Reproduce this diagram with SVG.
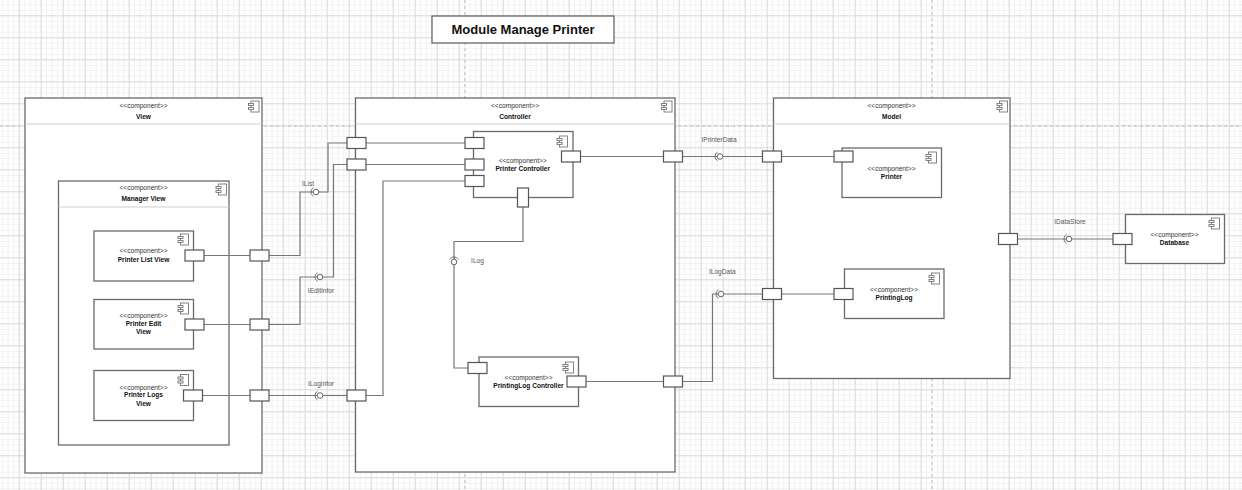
<svg xmlns="http://www.w3.org/2000/svg" width="1242" height="490" viewBox="0 0 1242 490">
<defs>
<pattern id="minor" patternUnits="userSpaceOnUse" x="18.7" y="15.3" width="5.5" height="5.5">
<path d="M0.5 0V5.5M0 0.5H5.5" stroke="#f1f1f1" stroke-width="1" fill="none"/>
</pattern>
<pattern id="major" patternUnits="userSpaceOnUse" x="18.7" y="15.3" width="22" height="22">
<path d="M0.5 0V22M0 0.5H22" stroke="#dcdcdc" stroke-width="1" fill="none"/>
</pattern>
<g id="ico">
<rect x="2.5" y="0" width="8" height="11" fill="#fff" stroke="#777" stroke-width="0.9"/>
<rect x="0" y="2.5" width="5" height="2" fill="#fff" stroke="#777" stroke-width="0.9"/>
<rect x="0" y="6.5" width="5" height="2" fill="#fff" stroke="#777" stroke-width="0.9"/>
</g>
<g id="ballh">
<path d="M-2.5 -4.3A5 5 0 0 0 -2.5 4.3" fill="none" stroke="#666" stroke-width="1"/>
<circle cx="0" cy="0" r="2.8" fill="#fff" stroke="#666" stroke-width="1"/>
</g>
<g id="ballv">
<path d="M-4.3 -2.5A5 5 0 0 1 4.3 -2.5" fill="none" stroke="#666" stroke-width="1"/>
<circle cx="0" cy="0" r="2.8" fill="#fff" stroke="#666" stroke-width="1"/>
</g>
</defs>
<style>
.comp{fill:#fff;stroke:#6a6a6a;stroke-width:1.3}
.sep{stroke:#cfcfcf;stroke-width:1}
.port{fill:#fff;stroke:#555;stroke-width:1.2}
.st{font-family:"Liberation Sans",Arial,sans-serif;font-size:6.6px;fill:#333;text-anchor:middle}
.nm{font-family:"Liberation Sans",Arial,sans-serif;font-size:6.6px;font-weight:bold;fill:#111;text-anchor:middle}
.lb{font-family:"Liberation Sans",Arial,sans-serif;font-size:6.6px;fill:#555;text-anchor:middle}
.cn{fill:none;stroke:#777;stroke-width:1.2}
.pb{stroke:#bbb;stroke-width:1;stroke-dasharray:3 3}
</style>
<rect width="1242" height="490" fill="#fff"/>
<rect width="1242" height="490" fill="url(#minor)"/>
<rect width="1242" height="490" fill="url(#major)"/>
<line class="pb" x1="0" y1="126" x2="1242" y2="126"/>
<line class="pb" x1="465" y1="0" x2="465" y2="490"/>
<line class="pb" x1="932" y1="0" x2="932" y2="490"/>

<g id="title">
<rect x="432" y="16" width="182" height="27" fill="#fff" stroke="#666" stroke-width="1.3"/>
<text x="523" y="34" font-family="Liberation Sans,Arial,sans-serif" font-size="13" font-weight="bold" fill="#111" text-anchor="middle">Module Manage Printer</text>
</g>

<g id="view">
<rect class="comp" x="25" y="98" width="237" height="375"/>
<line class="sep" x1="25" y1="124" x2="262" y2="124"/>
<use href="#ico" x="248.5" y="101"/>
<text class="st" x="143.5" y="108">&lt;&lt;component&gt;&gt;</text>
<text class="nm" x="143.5" y="119">View</text>
</g>
<g id="manager-view">
<rect class="comp" x="58.5" y="181" width="170.5" height="264"/>
<line class="sep" x1="58.5" y1="207" x2="229" y2="207"/>
<use href="#ico" x="216" y="184"/>
<text class="st" x="143.5" y="190">&lt;&lt;component&gt;&gt;</text>
<text class="nm" x="143.5" y="200.7">Manager View</text>
</g>
<g id="printer-list-view">
<rect class="comp" x="94" y="231" width="99.5" height="50"/>
<use href="#ico" x="178" y="234"/>
<text class="st" x="143.5" y="252.6">&lt;&lt;component&gt;&gt;</text>
<text class="nm" x="143.5" y="261.6">Printer List View</text>
</g>
<g id="printer-edit-view">
<rect class="comp" x="94" y="299.5" width="99.5" height="49.5"/>
<use href="#ico" x="178" y="303"/>
<text class="st" x="143.5" y="317.6">&lt;&lt;component&gt;&gt;</text>
<text class="nm" x="143.5" y="325.6">Printer Edit</text>
<text class="nm" x="143.5" y="333.6">View</text>
</g>
<g id="printer-logs-view">
<rect class="comp" x="94" y="370.5" width="99.5" height="50"/>
<use href="#ico" x="178" y="374.5"/>
<text class="st" x="143.5" y="390">&lt;&lt;component&gt;&gt;</text>
<text class="nm" x="143.5" y="397">Printer Logs</text>
<text class="nm" x="143.5" y="405.6">View</text>
</g>

<g id="controller">
<rect class="comp" x="355.5" y="98" width="319.5" height="374"/>
<line class="sep" x1="355.5" y1="124" x2="675" y2="124"/>
<use href="#ico" x="661.5" y="101"/>
<text class="st" x="515" y="108">&lt;&lt;component&gt;&gt;</text>
<text class="nm" x="515" y="119">Controller</text>
</g>
<g id="printer-controller">
<rect class="comp" x="473.5" y="131.5" width="99.5" height="66"/>
<use href="#ico" x="557" y="136"/>
<text class="st" x="522.7" y="163">&lt;&lt;component&gt;&gt;</text>
<text class="nm" x="522.7" y="171">Printer Controller</text>
</g>
<g id="printinglog-controller">
<rect class="comp" x="479" y="357" width="99.5" height="49.5"/>
<use href="#ico" x="563" y="362"/>
<text class="st" x="528.5" y="379.6">&lt;&lt;component&gt;&gt;</text>
<text class="nm" x="528.5" y="388">PrintingLog Controller</text>
</g>

<g id="model">
<rect class="comp" x="773.5" y="98" width="236.5" height="280.5"/>
<line class="sep" x1="773.5" y1="124" x2="1010" y2="124"/>
<use href="#ico" x="997" y="101"/>
<text class="st" x="891.5" y="108">&lt;&lt;component&gt;&gt;</text>
<text class="nm" x="891.5" y="119">Model</text>
</g>
<g id="printer">
<rect class="comp" x="842" y="148" width="99.5" height="49.5"/>
<use href="#ico" x="926" y="152"/>
<text class="st" x="891.5" y="171.3">&lt;&lt;component&gt;&gt;</text>
<text class="nm" x="891.5" y="178.8">Printer</text>
</g>
<g id="printinglog">
<rect class="comp" x="844.5" y="269" width="99.5" height="49.5"/>
<use href="#ico" x="929" y="273"/>
<text class="st" x="894" y="292.3">&lt;&lt;component&gt;&gt;</text>
<text class="nm" x="894" y="300.3">PrintingLog</text>
</g>
<g id="database">
<rect class="comp" x="1125.5" y="214.5" width="99" height="49"/>
<use href="#ico" x="1209" y="218"/>
<text class="st" x="1174.5" y="237.3">&lt;&lt;component&gt;&gt;</text>
<text class="nm" x="1174.5" y="245.3">Database</text>
</g>

<g id="connectors">
<polyline class="cn" points="204,255.5 250,255.5"/>
<polyline class="cn" points="204,324.5 250,324.5"/>
<polyline class="cn" points="202.5,395.5 250,395.5"/>
<polyline class="cn" points="269,255.5 300,255.5 300,192 313,192"/>
<polyline class="cn" points="319,192 328,192 328,143 347,143"/>
<polyline class="cn" points="366,143 465,143"/>
<polyline class="cn" points="269,324.5 300,324.5 300,277 317,277"/>
<polyline class="cn" points="323,277 333.5,277 333.5,164.5 347,164.5"/>
<polyline class="cn" points="366,164.5 465,164.5"/>
<polyline class="cn" points="269,395.5 317,395.5"/>
<polyline class="cn" points="323,395.5 347,395.5"/>
<polyline class="cn" points="366,395.5 383,395.5 383,181 465,181"/>
<polyline class="cn" points="523,207 523,241.5 454,241.5 454,259"/>
<polyline class="cn" points="454,265 454,368 468,368"/>
<polyline class="cn" points="580.5,156.5 663.5,156.5"/>
<polyline class="cn" points="682.5,156.5 717,156.5"/>
<polyline class="cn" points="723,156.5 762.5,156.5"/>
<polyline class="cn" points="781.5,156.5 834,156.5"/>
<polyline class="cn" points="586,381.5 663.5,381.5"/>
<polyline class="cn" points="682.5,381.5 712.5,381.5 712.5,294 718,294"/>
<polyline class="cn" points="724,294 762.5,294"/>
<polyline class="cn" points="781.5,294 834,294"/>
<polyline class="cn" points="1017.5,239 1066,239"/>
<polyline class="cn" points="1072,239 1113,239"/>
<use href="#ballh" x="316" y="192"/>
<use href="#ballh" x="320" y="277"/>
<use href="#ballh" x="320" y="395.5"/>
<use href="#ballv" x="454" y="262"/>
<use href="#ballh" x="720" y="156.5"/>
<use href="#ballh" x="721" y="294"/>
<use href="#ballh" x="1069" y="239"/>
<text class="lb" x="308" y="186.3">IList</text>
<text class="lb" x="321" y="293">IEditInfor</text>
<text class="lb" x="321" y="385.6">ILogInfor</text>
<text class="lb" x="477.5" y="262.5">ILog</text>
<text class="lb" x="719" y="142.3">IPrinterData</text>
<text class="lb" x="722.3" y="274">ILogData</text>
<text class="lb" x="1070" y="224">IDataStore</text>
</g>

<g id="ports">
<rect class="port" x="185" y="250" width="19" height="11"/>
<rect class="port" x="250" y="250" width="19" height="11"/>
<rect class="port" x="185" y="319" width="19" height="11"/>
<rect class="port" x="250" y="319" width="19" height="11"/>
<rect class="port" x="183.5" y="390" width="19" height="11"/>
<rect class="port" x="250" y="390" width="19" height="11"/>
<rect class="port" x="347" y="137.5" width="19" height="11"/>
<rect class="port" x="347" y="159" width="19" height="11"/>
<rect class="port" x="347" y="390" width="19" height="11"/>
<rect class="port" x="465" y="137.5" width="19" height="11"/>
<rect class="port" x="465" y="159" width="19" height="11"/>
<rect class="port" x="465" y="175.5" width="19" height="11"/>
<rect class="port" x="561.5" y="151" width="19" height="11"/>
<rect class="port" x="517.5" y="188" width="11" height="19"/>
<rect class="port" x="468" y="362.5" width="19" height="11"/>
<rect class="port" x="567" y="376" width="19" height="11"/>
<rect class="port" x="663.5" y="151" width="19" height="11"/>
<rect class="port" x="663.5" y="376" width="19" height="11"/>
<rect class="port" x="762.5" y="151" width="19" height="11"/>
<rect class="port" x="762.5" y="288.5" width="19" height="11"/>
<rect class="port" x="834" y="151" width="19" height="11"/>
<rect class="port" x="834" y="288.5" width="19" height="11"/>
<rect class="port" x="998.5" y="233.5" width="19" height="11"/>
<rect class="port" x="1113" y="233.5" width="19" height="11"/>
</g>
</svg>
